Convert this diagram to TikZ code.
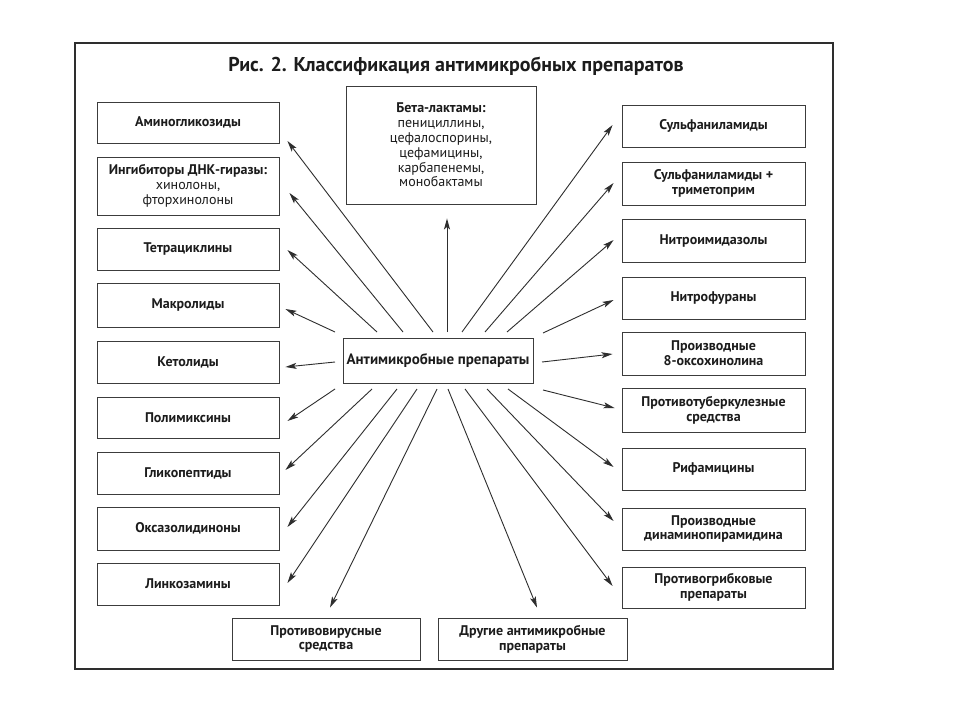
\documentclass[tikz,border=0pt]{standalone}
\usepackage{fontspec}
\setmainfont{PT Sans}
\usetikzlibrary{arrows.meta,calc}
\definecolor{linec}{HTML}{2E2E2E}
\definecolor{boxc}{HTML}{3C3C3C}
\definecolor{txt}{HTML}{1C1C1C}
\newcommand{\boxfont}{\fontsize{14}{14.8}\selectfont\bfseries}
\newcommand{\regfont}{\fontsize{14}{14.5}\selectfont\mdseries}
\begin{document}
\begin{tikzpicture}[x=1pt,y=-1pt,
  box/.style={draw=boxc, line width=0.9pt, inner sep=2pt, align=center, font=\boxfont, text=txt},
  lbox/.style={box, minimum width=182pt, minimum height=#1},
  lbox/.default=42pt,
  rbox/.style={box, minimum width=183pt, minimum height=#1},
  rbox/.default=42pt,
  arr/.style={draw=linec, line width=0.9pt, -{Stealth[length=11pt,width=6pt,inset=2.5pt]}},
  frame/.style={draw=linec, line width=1.8pt}]
\useasboundingbox[fill=white] (0,0) rectangle (960,720);
\draw[frame] (75,43) rectangle (833,669);
\node[font=\fontsize{20}{22}\selectfont\bfseries, text=txt] (title) at (456,66) {Рис. 2. Классификация антимикробных препаратов};
% left column
\node[lbox=41pt] (a1) at (188,122.5) {Аминогликозиды};
\node[lbox=58pt] (a2) at (188,186) {Ингибиторы ДНК-гиразы:\\{\regfont хинолоны,}\\{\regfont фторхинолоны}};
\node[lbox] (a3) at (188,249) {Тетрациклины};
\node[lbox=44pt] (a4) at (188,305) {Макролиды};
\node[lbox] (a5) at (188,362) {Кетолиды};
\node[lbox=41pt] (a6) at (188,417.5) {Полимиксины};
\node[lbox] (a7) at (188,473) {Гликопептиды};
\node[lbox=43pt] (a8) at (188,528.5) {Оксазолидиноны};
\node[lbox] (a9) at (188,584) {Линкозамины};
% right column
\node[rbox] (b1) at (713.5,126) {Сульфаниламиды};
\node[rbox=43pt] (b2) at (713.5,183.5) {Сульфаниламиды +\\триметоприм};
\node[rbox=43pt] (b3) at (713.5,240.5) {Нитроимидазолы};
\node[rbox] (b4) at (713.5,298) {Нитрофураны};
\node[rbox=43pt] (b5) at (713.5,353.5) {Производные\\8-оксохинолина};
\node[rbox=44pt] (b6) at (713.5,410) {Противотуберкулезные\\средства};
\node[rbox] (b7) at (713.5,469) {Рифамицины};
\node[rbox] (b8) at (713.5,529) {Производные\\динаминопирамидина};
\node[rbox=41pt] (b9) at (713.5,587.5) {Противогрибковые\\препараты};
% top and centre
\node[box, minimum width=190pt, minimum height=118pt] (beta) at (441,145) {Бета-лактамы:\\{\regfont пенициллины,}\\{\regfont цефалоспорины,}\\{\regfont цефамицины,}\\{\regfont карбапенемы,}\\{\regfont монобактамы}};
\node[box, minimum width=190pt, minimum height=45pt, font=\fontsize{15}{16}\selectfont\bfseries] (c) at (438,360.5) {Антимикробные препараты};
% bottom
\node[box, minimum width=188pt, minimum height=42pt] (d1) at (326,639) {Противовирусные\\средства};
\node[box, minimum width=189pt, minimum height=42pt] (d2) at (532.5,639) {Другие антимикробные\\препараты};
% arrows to the left
\draw[arr] ($(c.center)+(-5,-28.5)$) -- ($(a1.east)+(8,18.5)$);
\draw[arr] ($(c.center)+(-35,-28.5)$) -- ($(a2.east)+(10,7)$);
\draw[arr] ($(c.center)+(-61,-28.5)$) -- ($(a3.east)+(8,1)$);
\draw[arr] ($(c.center)+(-103,-28.5)$) -- ($(a4.east)+(6,4)$);
\draw[arr] ($(c.center)+(-103,1.5)$) -- ($(a5.east)+(6,5)$);
\draw[arr] ($(c.center)+(-103,28.5)$) -- ($(a6.east)+(8,3.5)$);
\draw[arr] ($(c.center)+(-66,28.5)$) -- ($(a7.east)+(6,-3)$);
\draw[arr] ($(c.center)+(-41,28.5)$) -- ($(a8.east)+(8,-1.5)$);
\draw[arr] ($(c.center)+(-21,28.5)$) -- ($(a9.east)+(8,-1)$);
% arrows down
\draw[arr] ($(c.center)+(-1,28.5)$) -- ($(d1.north)+(4,-10)$);
\draw[arr] ($(c.center)+(10,28.5)$) -- ($(d2.north)+(4.5,-10)$);
% arrows to the right
\draw[arr] ($(c.center)+(27,28.5)$) -- ($(b9.west)+(-9,-1.5)$);
\draw[arr] ($(c.center)+(49,28.5)$) -- ($(b8.west)+(-8,-8)$);
\draw[arr] ($(c.center)+(70,28.5)$) -- ($(b7.west)+(-8,-2)$);
\draw[arr] ($(c.center)+(105,29.5)$) -- ($(b6.west)+(-7,-2)$);
\draw[arr] ($(c.center)+(104,1.5)$) -- ($(b5.west)+(-9,0.5)$);
\draw[arr] ($(c.center)+(105,-27.5)$) -- ($(b4.west)+(-8,2)$);
\draw[arr] ($(c.center)+(69,-28.5)$) -- ($(b3.west)+(-8,-0.5)$);
\draw[arr] ($(c.center)+(47,-28.5)$) -- ($(b2.west)+(-8,-0.5)$);
\draw[arr] ($(c.center)+(24,-28.5)$) -- ($(b1.west)+(-9,-1)$);
% arrow up
\draw[arr] ($(c.center)+(9,-28.5)$) -- ($(beta.south)+(6,14)$);
\end{tikzpicture}
\end{document}
